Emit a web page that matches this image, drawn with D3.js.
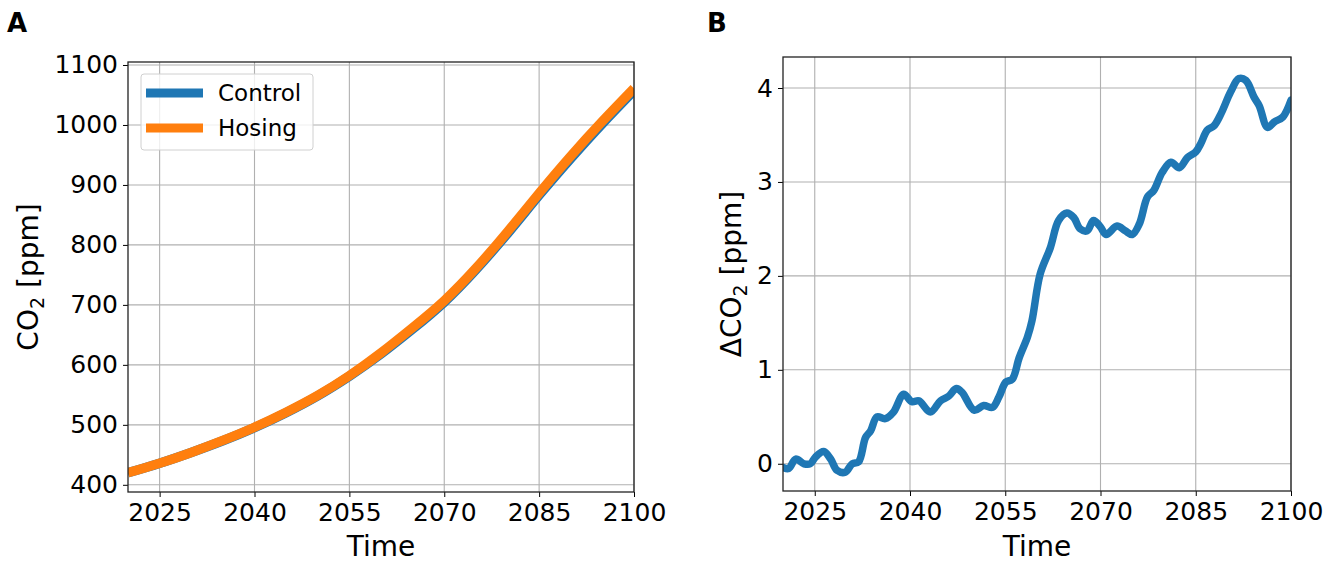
<!DOCTYPE html>
<html><head><meta charset="utf-8">
<script src="https://cdn.jsdelivr.net/npm/d3@7"></script>
<style>
html,body{margin:0;padding:0;background:#fff;}
svg text{font-family:"DejaVu Sans",sans-serif;fill:#000;}
</style></head>
<body>
<svg id="chart" width="1339" height="564"></svg>
<script>
// ---- Data ----
const xTicks = [2025, 2040, 2055, 2070, 2085, 2100];
const yTicksA = [400, 500, 600, 700, 800, 900, 1000, 1100];
const yTicksB = [0, 1, 2, 3, 4];

const yearsA = [2020, 2025, 2030, 2035, 2040, 2045, 2050, 2055, 2060, 2065, 2070, 2075, 2080, 2085, 2090, 2095, 2100];
const hosing  = [420, 436, 454, 474, 496, 521, 549, 582, 620, 662, 707, 761, 822, 886, 948, 1006, 1061];
const control = [420, 436, 454, 473.5, 495.3, 520.3, 548.4, 581.1, 618, 659.5, 704.5, 758.5, 818.8, 882.7, 944, 1002.2, 1057.2];

const yearsB = [2020.0, 2020.9, 2022.0, 2023.3, 2024.3, 2025.1, 2026.4, 2027.5, 2028.5, 2029.8, 2030.9, 2031.9,
  2033.0, 2033.8, 2034.8, 2036.1, 2037.4, 2039.0, 2040.3, 2041.4, 2043.2, 2044.8, 2046.1, 2047.3, 2048.2,
  2050.1, 2051.6, 2053.0, 2054.0, 2055.1, 2056.1, 2057.2, 2058.5, 2059.2, 2060.5, 2062.1, 2063.4, 2064.7,
  2065.8, 2066.8, 2067.9, 2068.9, 2070.0, 2070.9, 2072.6, 2073.9, 2075.0, 2076.1, 2077.4, 2078.4, 2079.7,
  2081.1, 2082.4, 2083.7, 2085.0, 2085.8, 2086.8, 2087.9, 2089.0, 2090.5, 2091.8, 2092.9, 2094.2, 2095.0,
  2096.3, 2097.4, 2098.7, 2100.0];
const deltaCO2 = [-0.04, -0.05, 0.05, 0.00, 0.00, 0.07, 0.13, 0.05, -0.07, -0.09, 0.00, 0.02,
  0.28, 0.35, 0.50, 0.48, 0.55, 0.74, 0.66, 0.67, 0.55, 0.67, 0.72, 0.80, 0.76,
  0.57, 0.62, 0.60, 0.71, 0.87, 0.90, 1.13, 1.35, 1.52, 2.02, 2.30, 2.59, 2.67,
  2.62, 2.50, 2.48, 2.59, 2.52, 2.44, 2.53, 2.48, 2.44, 2.55, 2.84, 2.91, 3.10,
  3.21, 3.15, 3.26, 3.32, 3.41, 3.55, 3.60, 3.73, 3.96, 4.10, 4.08, 3.90, 3.81,
  3.58, 3.64, 3.69, 3.87];

const seriesNames = ["Control", "Hosing"];
const colors = {Control: "#1f77b4", Hosing: "#ff7f0e"};

// ---- Drawing ----
const svg = d3.select("#chart");
const defs = svg.append("defs");

function panel(cfg) {
  const {left, right, top, bottom, xDomain, yDomain, yTicks, id} = cfg;
  const x = d3.scaleLinear().domain(xDomain).range([left, right]);
  const y = d3.scaleLinear().domain(yDomain).range([bottom, top]);
  const g = svg.append("g");
  g.append("g").selectAll("line").data(xTicks).join("line")
    .attr("x1", d => x(d)).attr("x2", d => x(d)).attr("y1", top).attr("y2", bottom)
    .attr("stroke", "#b0b0b0").attr("stroke-width", 1.1);
  g.append("g").selectAll("line").data(yTicks).join("line")
    .attr("x1", left).attr("x2", right).attr("y1", d => y(d)).attr("y2", d => y(d))
    .attr("stroke", "#b0b0b0").attr("stroke-width", 1.1);
  defs.append("clipPath").attr("id", id).append("rect")
    .attr("x", left).attr("y", top).attr("width", right - left).attr("height", bottom - top);
  const plot = g.append("g").attr("clip-path", `url(#${id})`);
  const xa = g.append("g").attr("transform", `translate(0,${bottom})`)
    .call(d3.axisBottom(x).tickValues(xTicks).tickFormat(d3.format("d")).tickSizeOuter(0).tickSize(5).tickPadding(6));
  const ya = g.append("g").attr("transform", `translate(${left},0)`)
    .call(d3.axisLeft(y).tickValues(yTicks).tickFormat(d3.format("d")).tickSizeOuter(0).tickSize(5).tickPadding(5));
  [xa, ya].forEach(a => {
    a.select(".domain").remove();
    a.selectAll("text").attr("font-size", 25).attr("font-family", "DejaVu Sans").attr("fill", "#000");
    a.selectAll("line").attr("stroke", "#000").attr("stroke-width", 1);
  });
  g.append("rect").attr("x", left).attr("y", top).attr("width", right - left).attr("height", bottom - top)
    .attr("fill", "none").attr("stroke", "#222").attr("stroke-width", 1.3);
  return {x, y, g, plot};
}

// Panel A
const A = panel({left: 128, right: 634, top: 62, bottom: 492, xDomain: [2020, 2100], yDomain: [388, 1105], yTicks: yTicksA, id: "clipA"});
const lineA = (vals) => d3.line().x((d, i) => A.x(yearsA[i])).y(d => A.y(d)).curve(d3.curveNatural)(vals);
A.plot.append("path").attr("d", lineA(control)).attr("fill", "none").attr("stroke", colors.Control).attr("stroke-width", 9.5);
A.plot.append("path").attr("d", lineA(hosing)).attr("fill", "none").attr("stroke", colors.Hosing).attr("stroke-width", 9.5);

// legend
const leg = svg.append("g");
leg.append("rect").attr("x", 141).attr("y", 74).attr("width", 172).attr("height", 76).attr("rx", 3)
  .attr("fill", "#fff").attr("fill-opacity", 0.8).attr("stroke", "#d0d0d0").attr("stroke-width", 1);
seriesNames.forEach((s, i) => {
  const yy = 93 + i * 35;
  leg.append("line").attr("x1", 146).attr("x2", 203).attr("y1", yy).attr("y2", yy)
    .attr("stroke", colors[s]).attr("stroke-width", 9);
  leg.append("text").attr("x", 218).attr("y", yy).attr("dy", "0.36em").attr("font-size", 23).text(s);
});

// Panel B
const B = panel({left: 783, right: 1291, top: 57, bottom: 491, xDomain: [2020, 2100], yDomain: [-0.29, 4.33], yTicks: yTicksB, id: "clipB"});
const lineB = d3.line().x((d, i) => B.x(yearsB[i])).y(d => B.y(d)).curve(d3.curveCatmullRom.alpha(0.5));
B.plot.append("path").attr("d", lineB(deltaCO2)).attr("fill", "none").attr("stroke", colors.Control)
  .attr("stroke-width", 7.5).attr("stroke-linejoin", "round").attr("stroke-linecap", "round");

// axis labels
function xLabel(p) {
  svg.append("text").attr("x", (p.x.range()[0] + p.x.range()[1]) / 2).attr("y", 556)
    .attr("text-anchor", "middle").attr("font-size", 28).text("Time");
}
xLabel(A); xLabel(B);

function yLabel(bx, cy, prefix) {
  const t = svg.append("text").attr("transform", `translate(${bx},${cy}) rotate(-90)`)
    .attr("text-anchor", "middle").attr("font-size", 28);
  t.append("tspan").text(prefix + "CO");
  t.append("tspan").attr("font-size", 19).attr("dy", 6).text("2");
  t.append("tspan").attr("dy", -6).text(" [ppm]");
}
yLabel(38, 277, "");
yLabel(741, 274, "Δ");

// panel letters
svg.append("text").attr("x", 7).attr("y", 32).attr("font-family", "Liberation Sans, Arial, sans-serif")
  .attr("font-weight", "bold").attr("font-size", 26).text("A");
svg.append("text").attr("x", 707).attr("y", 32).attr("font-family", "Liberation Sans, Arial, sans-serif")
  .attr("font-weight", "bold").attr("font-size", 26).text("B");
</script>
</body></html>
